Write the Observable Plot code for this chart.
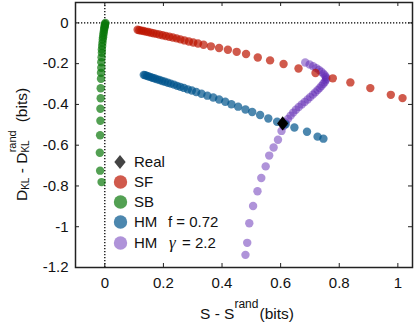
<!DOCTYPE html>
<html><head><meta charset="utf-8">
<script src="https://cdn.jsdelivr.net/npm/d3@7"></script>
<script src="https://cdn.jsdelivr.net/npm/@observablehq/plot@0.6"></script>
<style>body{margin:0;background:#fff}</style>
</head><body><div id="c"></div>
<script>
const xTicks = [0, 0.2, 0.4, 0.6, 0.8, 1];
const yTicks = [0, -0.2, -0.4, -0.6, -0.8, -1, -1.2];

const sfX = [0.112,0.118,0.125,0.132,0.140,0.148,0.157,0.166,0.176,0.186,0.197,0.208,0.220,0.232,0.245,0.258,0.272,0.287,0.302,0.318,0.337,0.362,0.390,0.420,0.450,0.482,0.522,0.564,0.610,0.661,0.719,0.778,0.838,0.906,0.976,1.016];
const sfY = [-0.034,-0.036,-0.038,-0.040,-0.043,-0.045,-0.048,-0.051,-0.054,-0.057,-0.061,-0.064,-0.068,-0.072,-0.076,-0.081,-0.086,-0.091,-0.096,-0.101,-0.107,-0.115,-0.123,-0.132,-0.142,-0.153,-0.170,-0.184,-0.202,-0.224,-0.246,-0.272,-0.292,-0.320,-0.353,-0.369];

const sbX = [0.002,0.001,0,0,-0.001,-0.002,-0.003,-0.004,-0.005,-0.006,-0.007,-0.008,-0.009,-0.010,-0.010,-0.011,-0.012,-0.012,-0.013,-0.013,-0.014,-0.014,-0.015,-0.015,-0.016,-0.017,-0.016,-0.011];
const sbY = [0,-0.005,-0.010,-0.015,-0.022,-0.029,-0.039,-0.049,-0.059,-0.071,-0.083,-0.098,-0.113,-0.130,-0.147,-0.169,-0.193,-0.220,-0.245,-0.274,-0.321,-0.370,-0.421,-0.480,-0.551,-0.637,-0.725,-0.781];

const hmX = [0.133,0.138,0.144,0.150,0.157,0.164,0.171,0.179,0.187,0.196,0.205,0.215,0.225,0.236,0.247,0.258,0.270,0.283,0.297,0.312,0.330,0.350,0.370,0.390,0.411,0.432,0.455,0.480,0.503,0.530,0.558,0.588,0.617,0.647,0.690,0.726,0.746];
const hmY = [-0.255,-0.257,-0.260,-0.263,-0.266,-0.270,-0.273,-0.277,-0.280,-0.285,-0.289,-0.294,-0.298,-0.303,-0.309,-0.314,-0.319,-0.326,-0.332,-0.339,-0.348,-0.357,-0.366,-0.376,-0.387,-0.399,-0.411,-0.425,-0.437,-0.452,-0.469,-0.485,-0.498,-0.513,-0.534,-0.558,-0.568];

const hgX = [0.684,0.699,0.711,0.722,0.731,0.739,0.746,0.751,0.755,0.756,0.754,0.750,0.745,0.739,0.733,0.726,0.718,0.710,0.701,0.692,0.682,0.672,0.662,0.652,0.643,0.634,0.625,0.617,0.610,0.603,0.591,0.576,0.561,0.549,0.534,0.521,0.506,0.493,0.486,0.480];
const hgY = [-0.194,-0.204,-0.213,-0.222,-0.231,-0.240,-0.249,-0.258,-0.266,-0.274,-0.282,-0.291,-0.300,-0.310,-0.320,-0.330,-0.341,-0.352,-0.364,-0.376,-0.388,-0.400,-0.413,-0.426,-0.440,-0.455,-0.471,-0.488,-0.506,-0.530,-0.573,-0.611,-0.651,-0.704,-0.761,-0.826,-0.898,-0.983,-1.079,-1.138];

const realX = [0.607];
const realY = [-0.493];

const legendLabels = ["Real", "SF", "SB", "HM", "HM"];
const seriesColors = ["rgb(188,20,0)", "rgb(10,120,10)", "rgb(0,84,140)", "rgb(95,40,180)"];
const seriesOpacity = [0.7, 0.7, 0.7, 0.5];

const zip = (xs, ys) => xs.map((x, i) => ({x, y: ys[i]}));
const sf = zip(sfX, sfY), sb = zip(sbX, sbY), hm = zip(hmX, hmY), hg = zip(hgX, hgY), real = zip(realX, realY);

const W = 415, H = 325, mL = 75, mR = 3, mT = 2, mB = 58;
const iW = W - mL - mR, iH = H - mT - mB;
const dotR = 4.2;

// wide diamond symbol (MATLAB style): half-height h, half-width 0.8h
const wideDiamond = {
  draw(ctx, size) {
    const h = Math.sqrt(size / 1.6);
    const w = 0.8 * h;
    ctx.moveTo(0, -h); ctx.lineTo(w, 0); ctx.lineTo(0, h); ctx.lineTo(-w, 0); ctx.closePath();
  }
};

const chart = Plot.plot({
  width: W, height: H,
  marginLeft: mL, marginRight: mR, marginTop: mT, marginBottom: mB,
  x: {domain: [-0.1, 1.05]},
  y: {domain: [-1.2, 0.1]},
  style: {fontFamily: "'Liberation Sans', Arial, sans-serif", fontSize: "15px", color: "#111", background: "#fff"},
  marks: [
    Plot.ruleX([0], {stroke: "#000", strokeWidth: 1.3, strokeDasharray: "1.3,1.7"}),
    Plot.ruleY([0], {stroke: "#000", strokeWidth: 1.3, strokeDasharray: "1.3,1.7"}),
    Plot.dot(hg, {x: "x", y: "y", r: dotR, fill: seriesColors[3], fillOpacity: seriesOpacity[3], stroke: null}),
    Plot.dot(hm, {x: "x", y: "y", r: dotR, fill: seriesColors[2], fillOpacity: seriesOpacity[2], stroke: null}),
    Plot.dot(sb, {x: "x", y: "y", r: dotR, fill: seriesColors[1], fillOpacity: seriesOpacity[1], stroke: null}),
    Plot.dot(sf, {x: "x", y: "y", r: dotR, fill: seriesColors[0], fillOpacity: seriesOpacity[0], stroke: null}),
    Plot.dot(real, {x: "x", y: "y", r: 5, symbol: wideDiamond, fill: "#000", stroke: null}),
    Plot.tickX(xTicks, {x: d => d, insetTop: iH - 4, stroke: "#222"}),
    Plot.tickX(xTicks, {x: d => d, insetBottom: iH - 4, stroke: "#222"}),
    Plot.tickY(yTicks, {y: d => d, insetRight: iW - 4, stroke: "#222"}),
    Plot.tickY(yTicks, {y: d => d, insetLeft: iW - 4, stroke: "#222"}),
    Plot.axisX(xTicks, {tickSize: 0, tickPadding: 10, tickFormat: d => String(d), label: null, fontSize: 15}),
    Plot.axisY(yTicks, {tickSize: 0, tickPadding: 7, tickFormat: d => String(d), label: null, fontSize: 15}),
    Plot.frame({stroke: "#222", strokeWidth: 1.5})
  ]
});
document.getElementById("c").appendChild(chart);

const svg = d3.select(chart);
const ff = "'Liberation Sans', Arial, sans-serif";

// X axis label
const xl = svg.append("text").attr("x", 200).attr("y", 319).attr("text-anchor", "start")
  .attr("font-family", ff).attr("font-size", 15.5).attr("fill", "#111");
xl.append("tspan").text("S - S");
xl.append("tspan").attr("font-size", 12).attr("dy", -11).text("rand");
xl.append("tspan").attr("dy", 11).attr("dx", 1).text("(bits)");

// Y axis label
const yl = svg.append("text").attr("transform", "translate(27,201) rotate(-90)").attr("text-anchor", "start")
  .attr("font-family", ff).attr("font-size", 15.5).attr("fill", "#111");
yl.append("tspan").text("D");
yl.append("tspan").attr("font-size", 10).attr("dy", 2).text("KL");
yl.append("tspan").attr("dy", -2).text(" - D");
yl.append("tspan").attr("font-size", 10).attr("dy", 2).text("KL");
yl.append("tspan").attr("font-size", 11).attr("dx", -12).attr("dy", -13).text("rand");
yl.append("tspan").attr("dx", 8).attr("dy", 11).text("(bits)");

// Legend
const lg = svg.append("g").attr("font-family", ff).attr("font-size", 15).attr("fill", "#111").attr("text-anchor", "start");
const ly = [162, 182, 202, 222, 243];
lg.append("path").attr("d", d3.symbol(wideDiamond, 80)()).attr("transform", `translate(120,${ly[0]})`).attr("fill", "#444");
seriesColors.forEach((c, i) => {
  lg.append("circle").attr("cx", 120.5).attr("cy", ly[i + 1]).attr("r", 6.7).attr("fill", c).attr("fill-opacity", seriesOpacity[i]);
});
const addT = (x, y, s) => lg.append("text").attr("x", x).attr("y", y).attr("dy", "0.36em").text(s);
legendLabels.forEach((s, i) => addT(134, ly[i], s));
addT(168, ly[3], "f = 0.72");
lg.append("text").attr("x", 169).attr("y", ly[4]).attr("dy", "0.3em").attr("font-family", "'Liberation Serif', serif").attr("font-style", "italic").attr("font-size", 17).text("γ");
addT(182, ly[4], "= 2.2");
</script></body></html>
